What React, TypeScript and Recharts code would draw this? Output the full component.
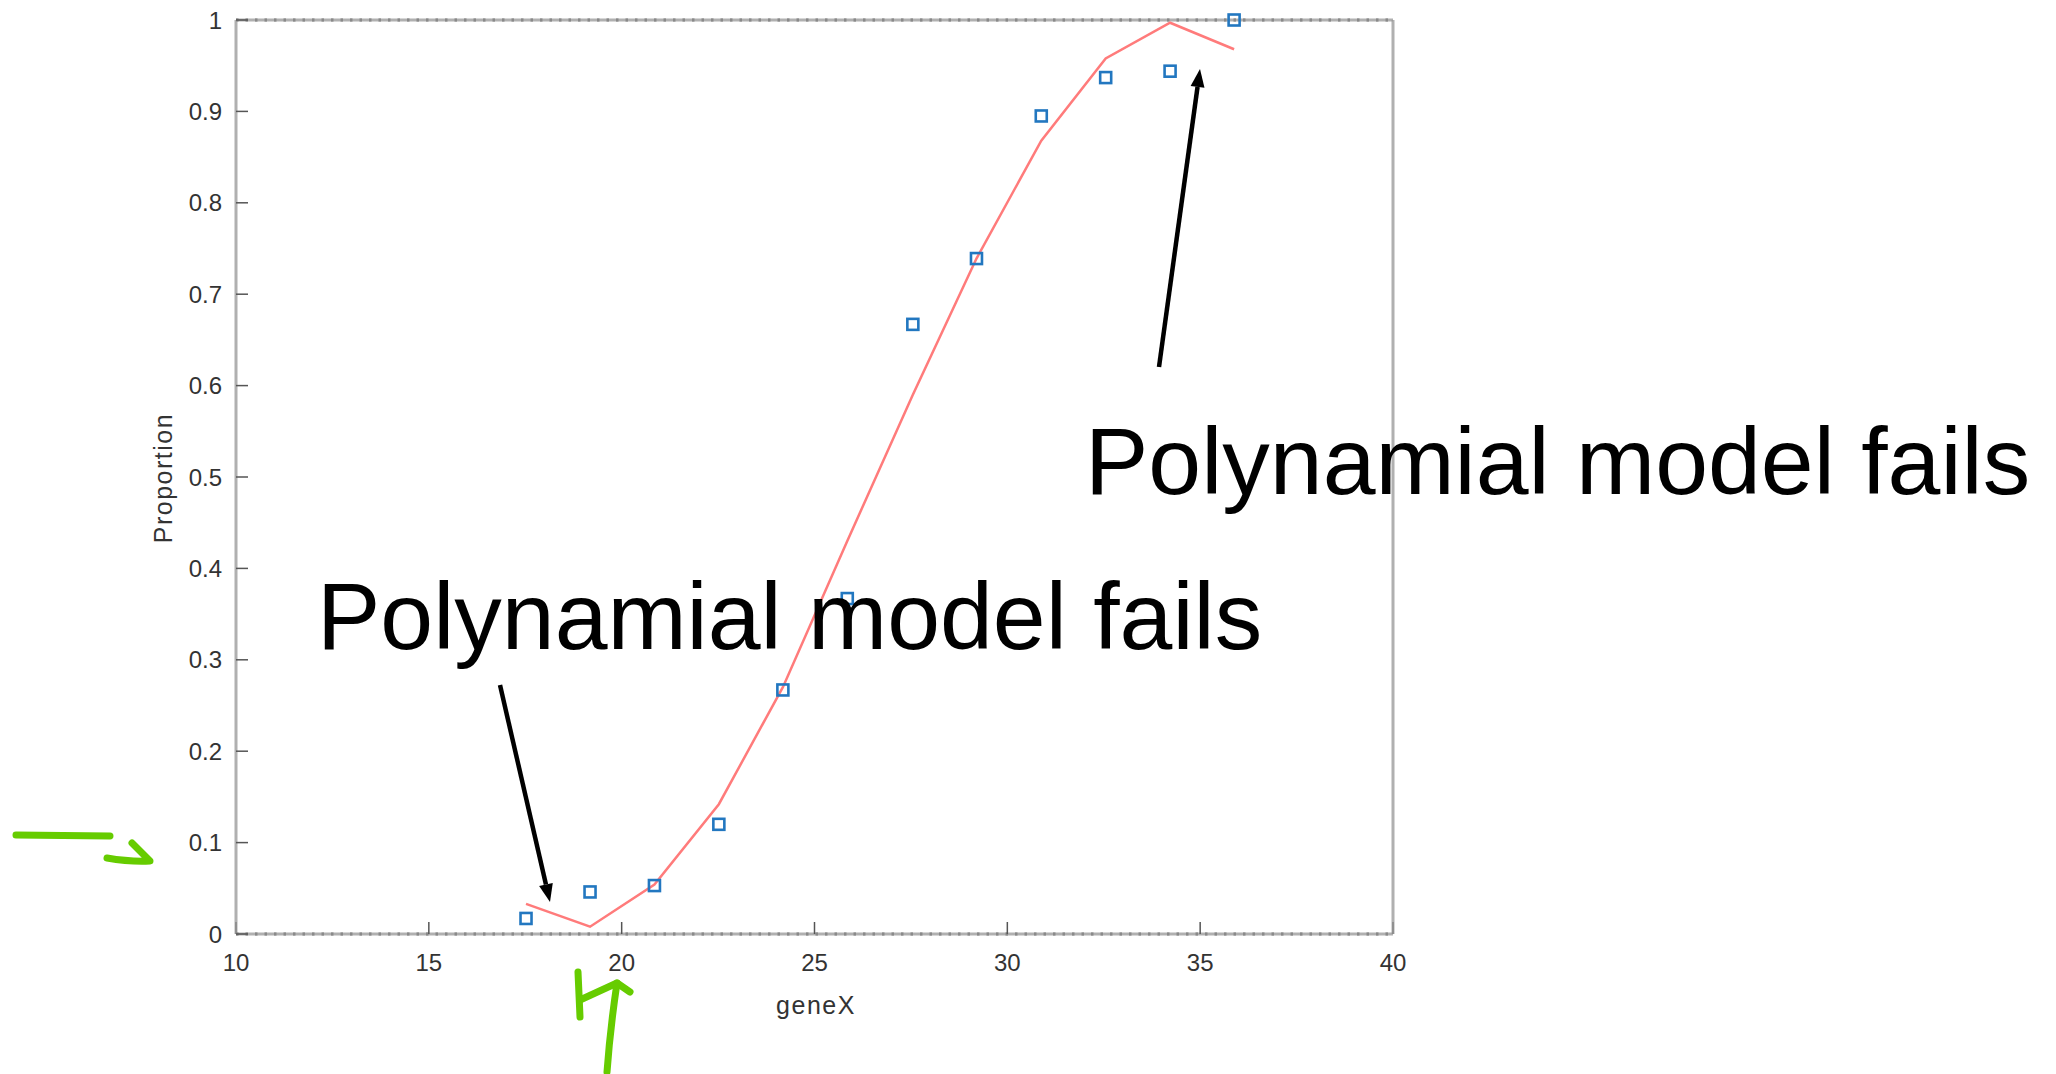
import React from 'react'
import { ReferenceLine, Scatter, ScatterChart, XAxis, YAxis } from 'recharts'

// observed proportions
const geneX = [17.52, 19.18, 20.85, 22.52, 24.18, 25.85, 27.55, 29.2, 30.88, 32.55, 34.22, 35.88]
const observed = [0.017, 0.046, 0.053, 0.12, 0.267, 0.367, 0.667, 0.739, 0.895, 0.937, 0.944, 1.0]
// polynomial fit at the same x values
const fitted = [0.033, 0.008, 0.054, 0.142, 0.27, 0.43, 0.59, 0.739, 0.868, 0.958, 0.997, 0.968]

const xTicks = [10, 15, 20, 25, 30, 35, 40]
const yTicks = [0, 0.1, 0.2, 0.3, 0.4, 0.5, 0.6, 0.7, 0.8, 0.9, 1]

const points = geneX.map((x, i) => ({ x, y: observed[i] }))
const fitLine = geneX.map((x, i) => ({ x, y: fitted[i] }))

const W = 2056
const H = 1074
const font = '"Liberation Sans", Arial, Helvetica, sans-serif'
const axisGray = 'rgba(150,150,150,0.75)'
const tickGray = '#555'
const labelColor = '#333'
const green = '#66cc00'

function Square(props: any) {
  const { cx, cy } = props
  if (cx == null || cy == null) return <g />
  const s = 11
  return <rect x={cx - s / 2} y={cy - s / 2} width={s} height={s} fill="none" stroke="#2277c0" strokeWidth={2.6} />
}

function Arrow({ x1, y1, x2, y2 }: { x1: number; y1: number; x2: number; y2: number }) {
  const dx = x2 - x1
  const dy = y2 - y1
  const len = Math.hypot(dx, dy)
  const ux = dx / len
  const uy = dy / len
  const L = 18
  const hw = 7
  const bx = x2 - ux * L
  const by = y2 - uy * L
  return (
    <g>
      <line x1={x1} y1={y1} x2={bx} y2={by} stroke="#000" strokeWidth={4.5} />
      <polygon points={`${x2},${y2} ${bx - uy * hw},${by + ux * hw} ${bx + uy * hw},${by - ux * hw}`} fill="#000" />
    </g>
  )
}

export default function App() {
  const tickStyle = { fontSize: 24, fill: labelColor, fontFamily: font }

  return (
    <div style={{ position: 'absolute', left: 0, top: 0, width: W, height: H, background: '#fff' }}>
      <ScatterChart width={W} height={H} margin={{ top: 19, right: 662, bottom: 80, left: 156 }}>
        <XAxis
          type="number"
          dataKey="x"
          domain={[10, 40]}
          ticks={xTicks}
          height={60}
          tickSize={-12}
          tickMargin={32}
          axisLine={{ stroke: axisGray, strokeWidth: 3 }}
          tickLine={{ stroke: tickGray, strokeWidth: 1.5 }}
          tick={tickStyle}
        />
        <XAxis
          xAxisId="top"
          orientation="top"
          type="number"
          dataKey="x"
          domain={[10, 40]}
          ticks={xTicks}
          height={1}
          tickSize={-12}
          tick={false}
          axisLine={{ stroke: axisGray, strokeWidth: 3 }}
          tickLine={{ stroke: tickGray, strokeWidth: 1.5 }}
        />
        <YAxis
          type="number"
          dataKey="y"
          domain={[0, 1]}
          ticks={yTicks}
          width={80}
          tickSize={-12}
          tickMargin={26}
          axisLine={{ stroke: axisGray, strokeWidth: 3 }}
          tickLine={{ stroke: tickGray, strokeWidth: 1.5 }}
          tick={tickStyle}
        />
        <YAxis
          yAxisId="right"
          orientation="right"
          type="number"
          dataKey="y"
          domain={[0, 1]}
          ticks={yTicks}
          width={1}
          tickSize={-12}
          tick={false}
          axisLine={{ stroke: axisGray, strokeWidth: 3 }}
          tickLine={{ stroke: tickGray, strokeWidth: 1.5 }}
        />
        <ReferenceLine y={0} stroke="#666" strokeWidth={3} strokeDasharray="2.5 7" />
        <ReferenceLine y={1} stroke="#666" strokeWidth={3} strokeDasharray="2.5 7" />
        <Scatter
          data={fitLine}
          line={{ stroke: '#ff7b7b', strokeWidth: 2.5 }}
          shape={() => <g />}
          isAnimationActive={false}
        />
        <Scatter data={points} shape={Square} isAnimationActive={false} />
        {/* registers the mirrored box axes */}
        <Scatter data={points} xAxisId="top" yAxisId="right" shape={() => <g />} isAnimationActive={false} />
      </ScatterChart>

      <svg width={W} height={H} style={{ position: 'absolute', left: 0, top: 0, pointerEvents: 'none' }}>
        <text x={163} y={478} transform="rotate(-90 163 478)" textAnchor="middle" dominantBaseline="central"
          fontSize={25} letterSpacing={1.5} fill={labelColor} fontFamily={font}>
          Proportion
        </text>
        <text x={816} y={1005} textAnchor="middle" dominantBaseline="central"
          fontSize={25} letterSpacing={1.5} fill={labelColor} fontFamily={font}>
          geneX
        </text>

        <text x={317} y={649} fontSize={95} fill="#000" fontFamily={font}>Polynamial model fails</text>
        <text x={1085} y={494} fontSize={95} fill="#000" fontFamily={font}>Polynamial model fails</text>

        <Arrow x1={500} y1={685} x2={550} y2={902} />
        <Arrow x1={1159} y1={367} x2={1200} y2={69} />

        <g stroke={green} strokeWidth={7} strokeLinecap="round" strokeLinejoin="round" fill="none">
          <path d="M16,835 L110,836" />
          <path d="M107,858 Q130,862 150,861 L132,843" />
          <path d="M578,972 L580,1017" />
          <path d="M580,1000 L617,983 L630,992" />
          <path d="M617,983 Q610,1030 607,1072" />
        </g>
      </svg>
    </div>
  )
}
